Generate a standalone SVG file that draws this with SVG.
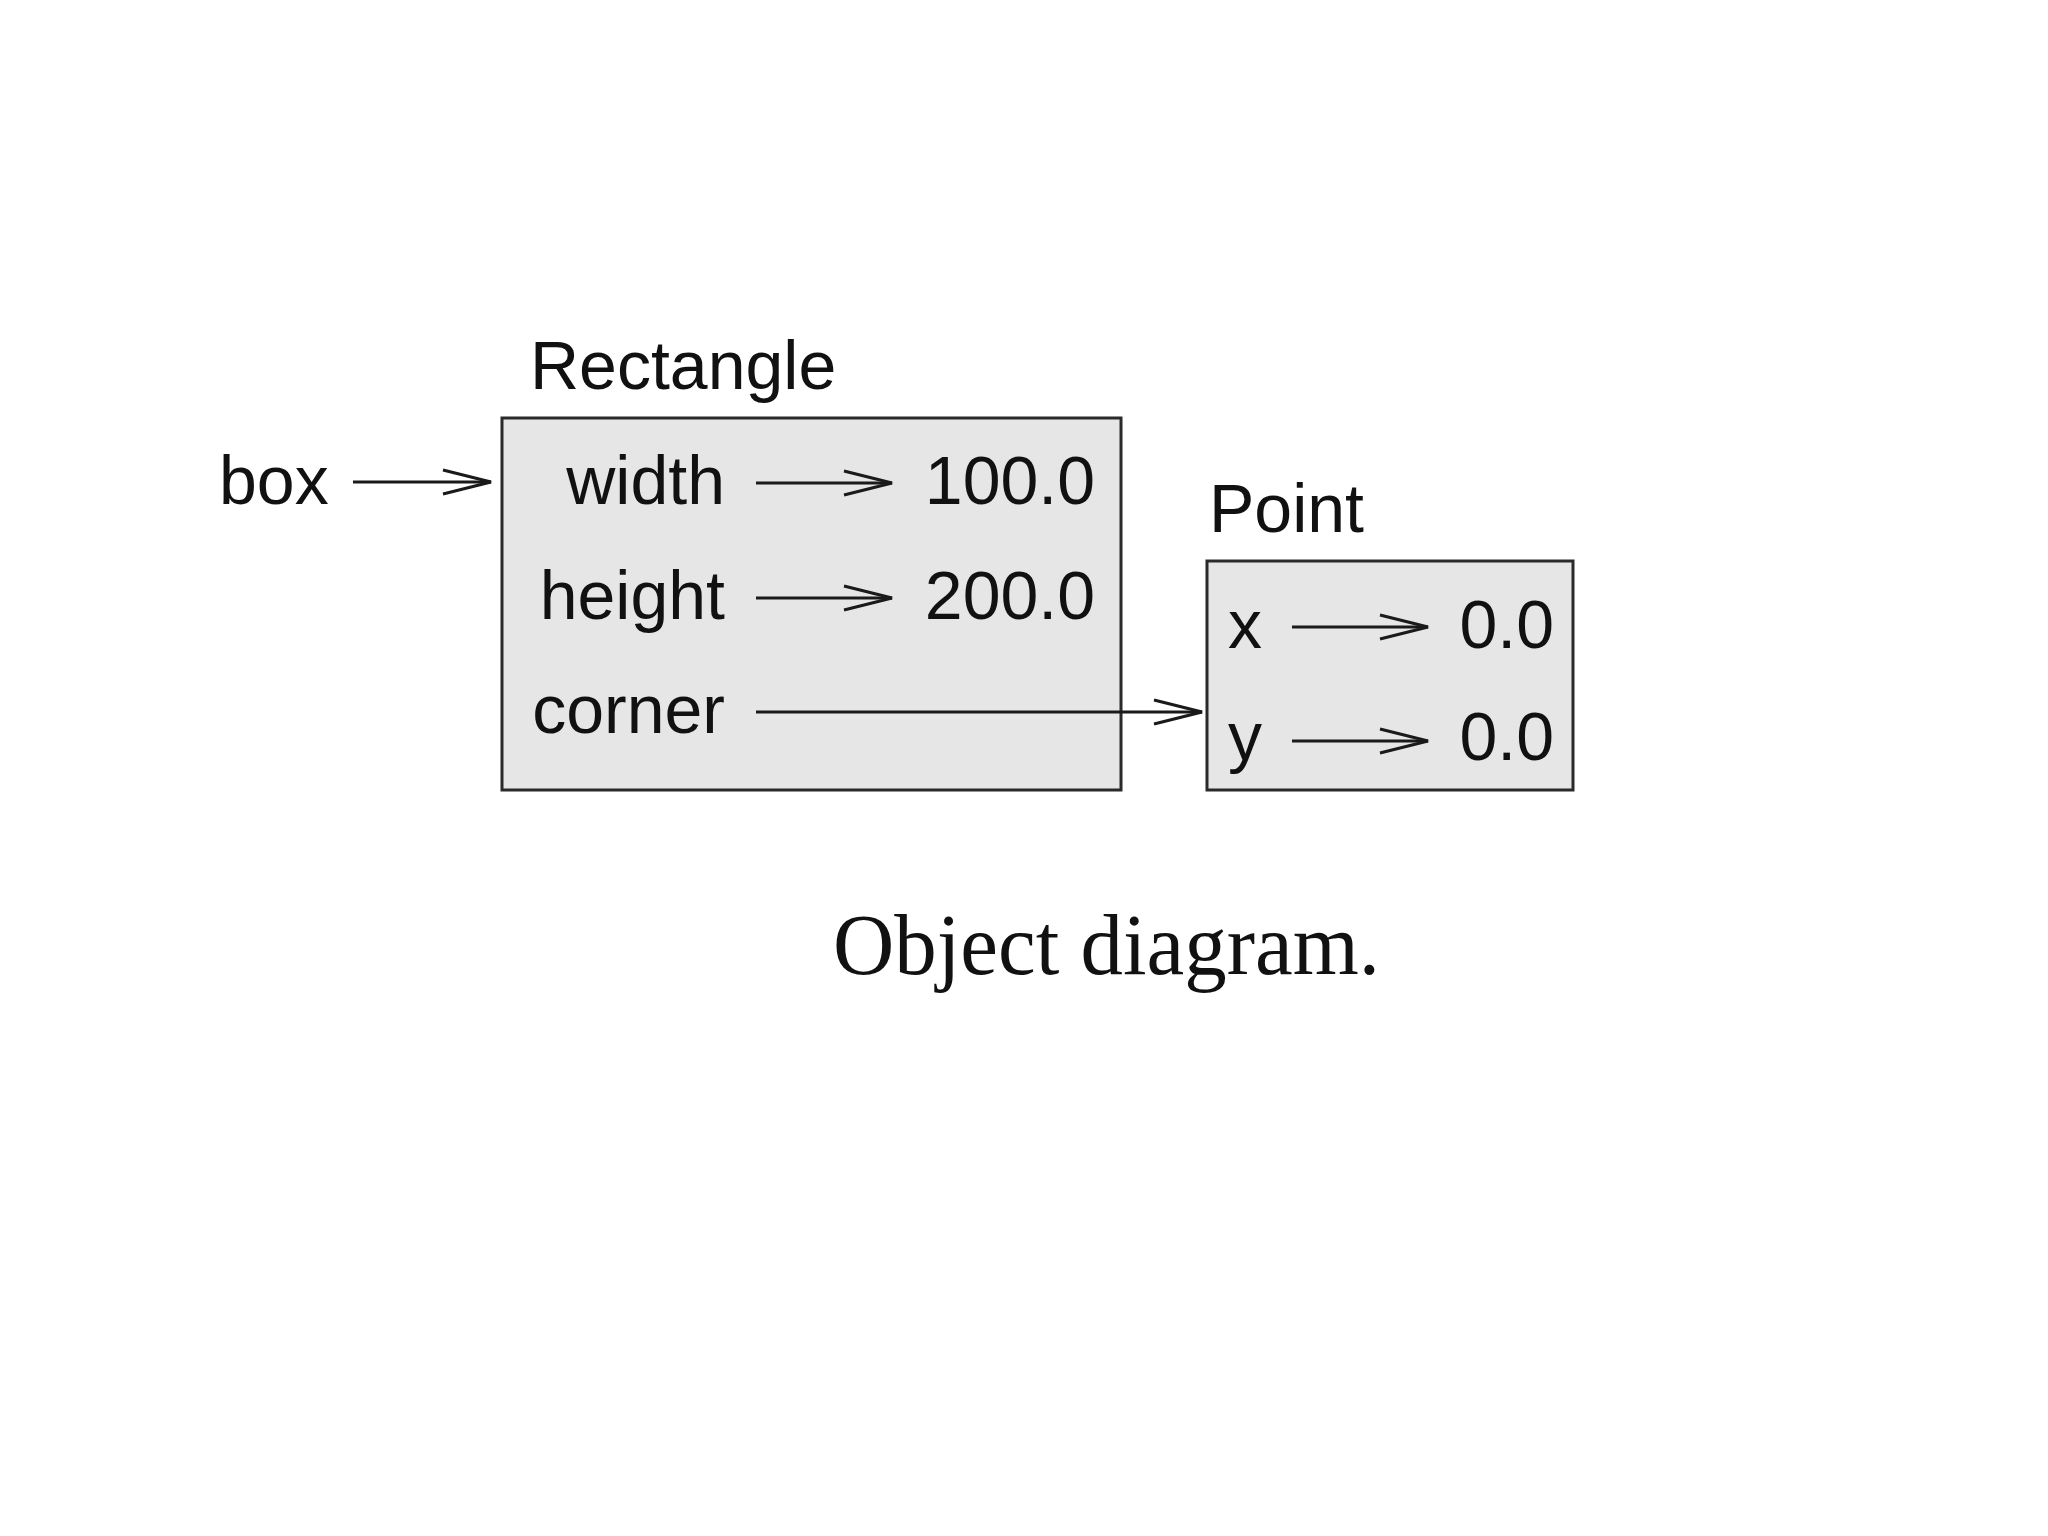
<svg xmlns="http://www.w3.org/2000/svg" width="2048" height="1536" viewBox="0 0 2048 1536">
<defs>
<style>
.lbl{font-family:"Liberation Sans",Arial,Helvetica,sans-serif;font-size:68px;fill:#111}
.box{fill:#e6e6e6;stroke:#2a2a2a;stroke-width:3}
.ln{stroke:#1a1a1a;stroke-width:3;fill:none}
.cap{font-family:"Liberation Serif","Times New Roman",serif;font-size:86px;fill:#111}
</style>
<marker id="ah" markerUnits="userSpaceOnUse" markerWidth="54" markerHeight="30" refX="49" refY="14" orient="auto">
<path d="M1,2 L49,14 L1,26" fill="none" stroke="#1a1a1a" stroke-width="3"/>
</marker>
</defs>
<rect width="2048" height="1536" fill="#ffffff"/>
<g id="box-var">
<text class="lbl" x="219" y="504">box</text>
</g>
<g id="rectangle">
<text class="lbl" x="530" y="389">Rectangle</text>
<rect class="box" x="502" y="418" width="619" height="372"/>
<text class="lbl" x="725" y="504" text-anchor="end">width</text>
<text class="lbl" x="1095" y="504" text-anchor="end">100.0</text>
<text class="lbl" x="725" y="619" text-anchor="end">height</text>
<text class="lbl" x="1095" y="619" text-anchor="end">200.0</text>
<text class="lbl" x="725" y="733" text-anchor="end">corner</text>
</g>
<g id="point">
<text class="lbl" x="1209" y="532">Point</text>
<rect class="box" x="1207" y="561" width="366" height="229"/>
<text class="lbl" x="1228" y="648">x</text>
<text class="lbl" x="1554" y="648" text-anchor="end">0.0</text>
<text class="lbl" x="1228" y="760">y</text>
<text class="lbl" x="1554" y="760" text-anchor="end">0.0</text>
</g>
<g id="connectors">
<line class="ln" x1="353" y1="482" x2="491" y2="482" marker-end="url(#ah)"/>
<line class="ln" x1="756" y1="483" x2="892" y2="483" marker-end="url(#ah)"/>
<line class="ln" x1="756" y1="598" x2="892" y2="598" marker-end="url(#ah)"/>
<line class="ln" x1="756" y1="712" x2="1202" y2="712" marker-end="url(#ah)"/>
<line class="ln" x1="1292" y1="627" x2="1428" y2="627" marker-end="url(#ah)"/>
<line class="ln" x1="1292" y1="741" x2="1428" y2="741" marker-end="url(#ah)"/>
</g>
<text class="cap" x="833" y="974" textLength="547" lengthAdjust="spacingAndGlyphs">Object diagram.</text>
</svg>
